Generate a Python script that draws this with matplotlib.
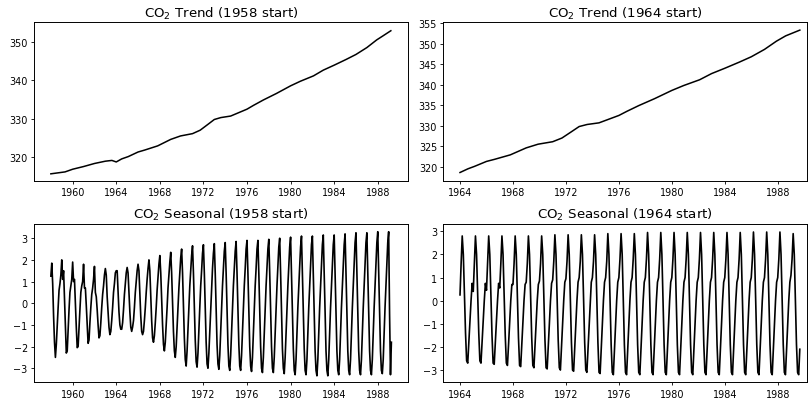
import numpy as np
import matplotlib
matplotlib.use("Agg")
import matplotlib.pyplot as plt

# trend, sampled about twice a year (decimal year, ppm)
trend58_t = [1958.0, 1959.3, 1960.0, 1961.0, 1962.0, 1963.0, 1963.6, 1964.0, 1964.5, 1965.1,
             1966.0, 1966.6, 1967.8, 1969.0, 1969.9, 1971.0, 1971.7, 1972.4, 1973.0, 1973.6,
             1974.5, 1976.0, 1976.6, 1977.5, 1978.7, 1980.0, 1980.9, 1982.1, 1983.0, 1984.0,
             1985.1, 1986.0, 1987.0, 1987.9, 1988.5, 1989.2]
trend58_v = [315.6, 316.1, 316.8, 317.5, 318.3, 318.9, 319.1, 318.7, 319.5, 320.1,
             321.3, 321.8, 322.9, 324.6, 325.5, 326.1, 327.0, 328.5, 329.8, 330.3,
             330.7, 332.5, 333.5, 334.9, 336.6, 338.6, 339.8, 341.2, 342.7, 344.0,
             345.5, 346.8, 348.6, 350.6, 351.7, 353.0]

trend64_t = [1964.0, 1964.6, 1965.1, 1966.0, 1966.6, 1967.8, 1969.0, 1969.9, 1971.0, 1971.7,
             1972.4, 1973.0, 1973.6, 1974.5, 1976.0, 1976.6, 1977.5, 1978.7, 1980.0, 1980.9,
             1982.1, 1983.0, 1984.0, 1985.1, 1986.0, 1987.0, 1987.9, 1988.6, 1989.67]
trend64_v = [318.6, 319.5, 320.1, 321.3, 321.8, 322.9, 324.6, 325.5, 326.1, 327.0,
             328.5, 329.8, 330.3, 330.7, 332.5, 333.5, 334.9, 336.6, 338.6, 339.8,
             341.2, 342.7, 344.0, 345.5, 346.8, 348.6, 350.6, 351.9, 353.3]

# monthly seasonal component, one row per year (Jan..Dec)
seas58 = [
    [1.25, 1.85, 0.9, -0.6, -1.8, -2.5, -1.9, -1.0, -0.2, 0.6, 0.9, 1.3],   # 1958
    [2.0, 1.1, 1.5, 0.2, -1.2, -2.3, -2.2, -1.2, -0.3, 0.5, 0.8, 1.1],      # 1959
    [1.9, 1.0, 1.1, 0.0, -1.1, -2.05, -2.0, -1.1, -0.3, 0.5, 0.8, 1.0],     # 1960
    [1.8, 0.7, 0.7, -0.1, -1.0, -1.85, -1.7, -0.9, -0.2, 0.4, 0.7, 1.1],    # 1961
    [1.7, 0.5, 0.3, -0.3, -1.0, -1.6, -1.5, -0.9, -0.2, 0.4, 0.8, 1.3],     # 1962
    [1.6, 1.3, 0.3, -0.4, -1.1, -1.45, -1.3, -0.8, -0.2, 0.5, 0.9, 1.4],    # 1963
    [1.5, 1.5, 0.5, -0.4, -1.0, -1.2, -1.2, -0.9, -0.3, 0.4, 0.9, 1.4],     # 1964
    [1.65, 1.4, 0.5, -0.4, -1.1, -1.3, -1.1, -0.8, -0.2, 0.5, 1.0, 1.5],    # 1965
    [1.8, 1.5, 0.4, -0.6, -1.3, -1.45, -1.3, -0.8, -0.2, 0.5, 1.1, 1.6],    # 1966
    [2.0, 1.5, 0.3, -0.8, -1.6, -1.8, -1.5, -0.9, -0.2, 0.6, 1.2, 1.8],     # 1967
    [2.2, 1.4, 0.2, -1.0, -1.9, -2.2, -1.8, -1.0, -0.2, 0.7, 1.3, 1.9],     # 1968
    [2.35, 1.4, 0.0, -1.3, -2.2, -2.5, -2.0, -1.1, -0.2, 0.7, 1.4, 2.1],    # 1969
    [2.5, 1.4, -0.1, -1.6, -2.6, -2.9, -2.2, -1.2, -0.2, 0.8, 1.5, 2.2],    # 1970
    [2.65, 1.4, -0.2, -1.7, -2.7, -2.95, -2.3, -1.2, -0.2, 0.8, 1.5, 2.3],  # 1971
    [2.7, 1.4, -0.2, -1.8, -2.8, -3.0, -2.3, -1.3, -0.2, 0.8, 1.6, 2.3],    # 1972
    [2.75, 1.4, -0.3, -1.9, -2.8, -3.05, -2.4, -1.3, -0.2, 0.8, 1.6, 2.4],  # 1973
    [2.8, 1.4, -0.3, -1.9, -2.9, -3.1, -2.4, -1.3, -0.2, 0.8, 1.6, 2.4],    # 1974
    [2.85, 1.4, -0.3, -1.9, -2.9, -3.1, -2.4, -1.3, -0.2, 0.8, 1.6, 2.5],   # 1975
    [2.9, 1.4, -0.3, -2.0, -2.9, -3.15, -2.5, -1.4, -0.2, 0.8, 1.6, 2.5],   # 1976
    [2.9, 1.4, -0.3, -2.0, -3.0, -3.2, -2.5, -1.4, -0.2, 0.8, 1.7, 2.5],    # 1977
    [2.95, 1.4, -0.4, -2.0, -3.0, -3.2, -2.5, -1.4, -0.2, 0.8, 1.7, 2.6],   # 1978
    [3.0, 1.4, -0.4, -2.1, -3.0, -3.25, -2.5, -1.4, -0.2, 0.8, 1.7, 2.6],   # 1979
    [3.05, 1.4, -0.4, -2.1, -3.1, -3.3, -2.6, -1.4, -0.2, 0.8, 1.7, 2.6],   # 1980
    [3.1, 1.4, -0.4, -2.1, -3.1, -3.3, -2.6, -1.4, -0.2, 0.8, 1.7, 2.7],    # 1981
    [3.1, 1.4, -0.4, -2.2, -3.1, -3.35, -2.6, -1.4, -0.2, 0.8, 1.7, 2.7],   # 1982
    [3.15, 1.4, -0.4, -2.2, -3.1, -3.35, -2.6, -1.4, -0.2, 0.8, 1.7, 2.7],  # 1983
    [3.15, 1.4, -0.4, -2.2, -3.1, -3.3, -2.6, -1.4, -0.2, 0.8, 1.7, 2.7],   # 1984
    [3.2, 1.4, -0.4, -2.2, -3.1, -3.3, -2.6, -1.4, -0.2, 0.8, 1.7, 2.8],    # 1985
    [3.25, 1.4, -0.4, -2.2, -3.1, -3.3, -2.6, -1.4, -0.2, 0.8, 1.7, 2.8],   # 1986
    [3.25, 1.4, -0.4, -2.2, -3.1, -3.3, -2.6, -1.4, -0.2, 0.8, 1.7, 2.8],   # 1987
    [3.3, 1.4, -0.4, -2.2, -3.1, -3.25, -2.6, -1.4, -0.2, 0.8, 1.7, 2.8],   # 1988
    [3.3, -0.5, -3.3, -1.8],                                                 # 1989
]

seas64 = [
    [0.25, 1.6, 2.8, 2.0, 0.3, -1.4, -2.6, -2.7, -1.8, -0.9, 0.0, 0.75],    # 1964
    [0.4, 1.6, 2.8, 2.0, 0.3, -1.4, -2.6, -2.7, -1.8, -0.9, 0.0, 0.75],     # 1965
    [0.45, 1.6, 2.8, 2.0, 0.3, -1.5, -2.7, -2.75, -1.8, -0.9, 0.0, 0.75],   # 1966
    [0.55, 1.6, 2.8, 2.0, 0.3, -1.5, -2.7, -2.8, -1.9, -0.9, 0.0, 0.7],     # 1967
    [0.7, 1.6, 2.8, 2.0, 0.2, -1.6, -2.8, -2.85, -1.9, -0.9, 0.0, 0.7],     # 1968
    [0.8, 1.6, 2.8, 2.0, 0.2, -1.6, -2.8, -2.9, -1.9, -1.0, 0.0, 0.7],      # 1969
    [0.85, 1.6, 2.8, 2.0, 0.2, -1.7, -2.9, -2.95, -2.0, -1.0, 0.0, 0.75],   # 1970
    [0.9, 1.7, 2.85, 2.0, 0.2, -1.7, -2.9, -3.0, -2.0, -1.0, 0.0, 0.8],     # 1971
    [0.95, 1.7, 2.85, 2.0, 0.1, -1.8, -3.0, -3.05, -2.0, -1.0, 0.0, 0.8],   # 1972
    [1.0, 1.7, 2.85, 2.0, 0.1, -1.8, -3.0, -3.1, -2.1, -1.0, 0.0, 0.8],     # 1973
    [1.0, 1.7, 2.85, 2.0, 0.1, -1.8, -3.1, -3.15, -2.1, -1.1, 0.0, 0.8],    # 1974
    [1.0, 1.7, 2.9, 2.0, 0.1, -1.9, -3.1, -3.2, -2.1, -1.1, 0.0, 0.8],      # 1975
    [1.0, 1.8, 2.9, 2.0, 0.1, -1.9, -3.1, -3.2, -2.1, -1.1, 0.0, 0.8],      # 1976
    [1.0, 1.8, 2.9, 2.0, 0.1, -1.9, -3.1, -3.2, -2.1, -1.1, 0.0, 0.8],      # 1977
    [1.0, 1.8, 2.95, 2.0, 0.1, -1.9, -3.1, -3.2, -2.1, -1.1, 0.0, 0.8],     # 1978
    [1.0, 1.8, 2.95, 2.0, 0.1, -1.9, -3.1, -3.2, -2.1, -1.1, 0.0, 0.8],     # 1979
    [1.0, 1.8, 2.95, 2.0, 0.1, -1.9, -3.1, -3.2, -2.1, -1.1, 0.0, 0.8],     # 1980
    [1.0, 1.8, 2.95, 2.0, 0.1, -1.9, -3.1, -3.2, -2.1, -1.1, 0.0, 0.8],     # 1981
    [1.0, 1.8, 2.95, 2.0, 0.1, -1.9, -3.1, -3.2, -2.1, -1.1, 0.0, 0.8],     # 1982
    [1.0, 1.8, 2.95, 2.0, 0.1, -1.9, -3.1, -3.2, -2.1, -1.1, 0.0, 0.8],     # 1983
    [1.0, 1.8, 2.95, 2.0, 0.1, -1.9, -3.1, -3.2, -2.1, -1.1, 0.0, 0.8],     # 1984
    [1.0, 1.8, 2.95, 2.0, 0.1, -1.9, -3.1, -3.2, -2.1, -1.1, 0.0, 0.8],     # 1985
    [1.0, 1.8, 2.97, 2.0, 0.1, -1.9, -3.1, -3.2, -2.1, -1.1, 0.0, 0.8],     # 1986
    [1.0, 1.8, 2.97, 2.0, 0.1, -1.9, -3.1, -3.2, -2.1, -1.1, 0.0, 0.8],     # 1987
    [1.0, 1.8, 2.97, 2.0, 0.1, -1.9, -3.1, -3.2, -2.1, -1.1, 0.0, 0.8],     # 1988
    [1.1, 1.8, 2.9, 2.0, 0.1, -1.9, -3.1, -3.2, -2.1],                       # 1989
]

ticks58 = [1960, 1964, 1968, 1972, 1976, 1980, 1984, 1988]
ticks64 = [1964, 1968, 1972, 1976, 1980, 1984, 1988]


def monthly(rows, start):
    vals = np.concatenate([np.asarray(r, float) for r in rows])
    return start + np.arange(len(vals)) / 12.0, vals


s58_t, s58_v = monthly(seas58, 1958.0)
s64_t, s64_v = monthly(seas64, 1964.0)

fig = plt.figure(figsize=(8.09, 4.02), dpi=100)
ax_tl = fig.add_axes([0.042, 0.548, 0.462, 0.394])
ax_tr = fig.add_axes([0.548, 0.548, 0.450, 0.394])
ax_bl = fig.add_axes([0.042, 0.0465, 0.462, 0.394])
ax_br = fig.add_axes([0.548, 0.0465, 0.450, 0.394])

ax_tl.plot(trend58_t, trend58_v, color="black", lw=1.1)
ax_tr.plot(trend64_t, trend64_v, color="black", lw=1.1)
ax_bl.plot(s58_t, s58_v, color="black", lw=1.2)
ax_br.plot(s64_t, s64_v, color="black", lw=1.2)

ax_tl.set_title("CO$_2$ Trend (1958 start)", fontsize=9.6, pad=4)
ax_tr.set_title("CO$_2$ Trend (1964 start)", fontsize=9.6, pad=4)
ax_bl.set_title("CO$_2$ Seasonal (1958 start)", fontsize=9.6, pad=4)
ax_br.set_title("CO$_2$ Seasonal (1964 start)", fontsize=9.6, pad=4)

for ax in (ax_tl, ax_bl):
    ax.set_xlim(1956.45, 1990.75)
    ax.set_xticks(ticks58)
for ax in (ax_tr, ax_br):
    ax.set_xlim(1962.74, 1990.24)
    ax.set_xticks(ticks64)

ax_tl.set_ylim(313.8, 355.2)
ax_tl.set_yticks([320, 330, 340, 350])
ax_tr.set_ylim(316.6, 355.2)
ax_tr.set_yticks([320, 325, 330, 335, 340, 345, 350, 355])
ax_bl.set_ylim(-3.65, 3.66)
ax_bl.set_yticks([-3, -2, -1, 0, 1, 2, 3])
ax_br.set_ylim(-3.53, 3.32)
ax_br.set_yticks([-3, -2, -1, 0, 1, 2, 3])

for ax in (ax_tl, ax_tr, ax_bl, ax_br):
    ax.tick_params(labelsize=6.9, length=2.5, width=0.6, pad=2)
    for sp in ax.spines.values():
        sp.set_linewidth(0.7)

fig.savefig("out.png", dpi=100)
